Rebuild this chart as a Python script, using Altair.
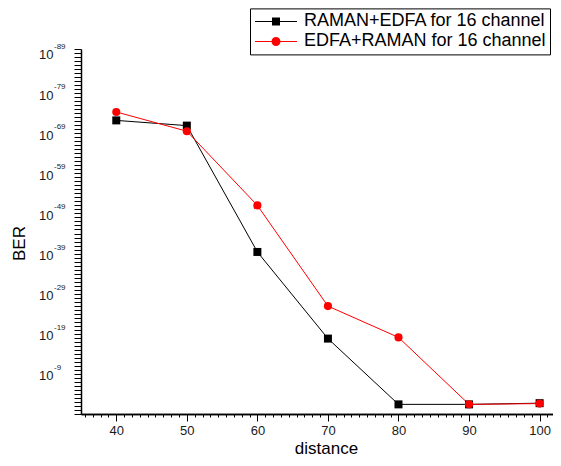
import altair as alt
import pandas as pd

# ---- data (BER exponents: value n means BER = 10^-n) ----
distance = [40, 50, 60, 70, 80, 90, 100]
raman_edfa_exp = [72.2, 70.9, 39.4, 17.8, 1.4, 1.4, 1.7]
edfa_raman_exp = [74.3, 69.5, 51.0, 25.9, 18.1, 1.4, 1.6]
series_names = ["RAMAN+EDFA for 16 channel", "EDFA+RAMAN for 16 channel"]
series_colors = ["#000000", "#ff0000"]
x_major = [40, 50, 60, 70, 80, 90, 100]
y_label_exps = [9, 19, 29, 39, 49, 59, 69, 79, 89]
y_label_text = ["-9", "-19", "-29", "-39", "-49", "-59", "-69", "-79", "-89"]

rows = []
for name, vals in zip(series_names, [raman_edfa_exp, edfa_raman_exp]):
    for d, v in zip(distance, vals):
        rows.append({"distance": d, "exponent": v, "series": name})
df = pd.DataFrame(rows)
lab = pd.DataFrame({"exponent": y_label_exps, "exp": y_label_text})

x_minor = [round(40 + k * 10 / 9, 4) for k in range(-4, 56)]
y_ticks = list(range(-1, 91))

FONT = "Liberation Sans"
xs = alt.Scale(domain=[35, 101.9], nice=False, zero=False)
ys = alt.Scale(domain=[-1, 90], nice=False, zero=False)

y_axis = alt.Axis(values=y_ticks, tickSize=7, labels=False, grid=False,
                  title="BER", titleFont=FONT, titleFontSize=17, titleFontWeight="normal",
                  titleColor="#000000", titleAngle=270, titleX=-62, titleY=194,
                  titleAlign="center", titleBaseline="middle",
                  domainColor="#000000", domainWidth=1.5, tickColor="#000000", tickWidth=1)
Y = alt.Y("exponent:Q", scale=ys, axis=y_axis)

x_major_axis = alt.Axis(values=x_major, tickSize=7, grid=False, orient="bottom",
                        labelFont=FONT, labelFontSize=13, labelColor="#1a1a1a", labelPadding=3,
                        title="distance", titleFont=FONT, titleFontSize=17,
                        titleFontWeight="normal", titleColor="#000000",
                        titleX=245, titleY=34, titleAlign="center", titleBaseline="middle",
                        domainColor="#000000", domainWidth=1.5, tickColor="#000000", tickWidth=1)
x_minor_axis = alt.Axis(values=x_minor, tickSize=3, grid=False, orient="bottom", labels=False,
                        title=None, domainColor="#000000", domainWidth=1.5,
                        tickColor="#000000", tickWidth=1)

base = alt.Chart(df)

def sel(i):
    return alt.datum.series == series_names[i]

line_black = base.transform_filter(sel(0)).mark_line(color=series_colors[0], strokeWidth=1).encode(
    x=alt.X("distance:Q", scale=xs, axis=x_minor_axis), y=Y)
line_red = base.transform_filter(sel(1)).mark_line(color=series_colors[1], strokeWidth=1).encode(
    x=alt.X("distance:Q", scale=xs, axis=None), y=Y)
pts_black = base.transform_filter(sel(0)).mark_point(
    shape="square", filled=True, size=64, opacity=1, color=series_colors[0]).encode(
    x=alt.X("distance:Q", scale=xs, axis=x_major_axis), y=Y)
pts_red = base.transform_filter(sel(1)).mark_point(
    shape="circle", filled=True, size=66, opacity=1, color=series_colors[1]).encode(
    x=alt.X("distance:Q", scale=xs, axis=None), y=Y)

# legend symbols: line with marker (custom SVG paths)
line_path = "M-1,-0.0625H4.25V0.0625H-1Z"
sq_path = line_path + "M1.125,-0.5H2.125V0.5H1.125Z"
circ_path = line_path + "M2.1875,0A0.5625,0.5625,0,1,1,1.0625,0A0.5625,0.5625,0,1,1,2.1875,0Z"

leg = alt.Legend(orient="none", legendX=169, legendY=-40.6, title=None,
                 padding=4, strokeColor="#000000", fillColor="#ffffff", cornerRadius=0,
                 labelFont=FONT, labelFontSize=18, labelColor="#000000", labelLimit=500,
                 symbolSize=256, symbolStrokeWidth=0, symbolOpacity=1,
                 labelOffset=32, rowPadding=2)
legend_layer = base.transform_filter("false").mark_point(filled=True, opacity=1, size=256).encode(
    x=alt.X("distance:Q", scale=xs, axis=None), y=Y,
    color=alt.Color("series:N", scale=alt.Scale(domain=series_names, range=series_colors),
                    sort=series_names, legend=leg),
    shape=alt.Shape("series:N", scale=alt.Scale(domain=series_names, range=[sq_path, circ_path]),
                    sort=series_names, legend=leg),
)

ten = alt.Chart(lab).mark_text(align="right", baseline="middle", font=FONT, fontSize=13,
                               color="#1a1a1a", dy=2.4).encode(
    x=alt.value(-27.5), y=Y, text=alt.value("10"))
sup = alt.Chart(lab).mark_text(align="left", baseline="middle", font=FONT, fontSize=8,
                               color="#1a1a1a", dy=-6).encode(
    x=alt.value(-27), y=Y, text="exp:N")

chart = alt.layer(line_black, line_red, pts_black, pts_red, legend_layer, ten, sup).resolve_axis(
    x="independent").properties(
    width=472, height=365,
    autosize=alt.AutoSizeParams(type="none"),
    padding={"left": 73, "top": 41, "right": 0, "bottom": 44},
    background="#ffffff",
).configure_view(stroke=None)

chart.save("out.html", embed_options={"renderer": "svg", "actions": False})
